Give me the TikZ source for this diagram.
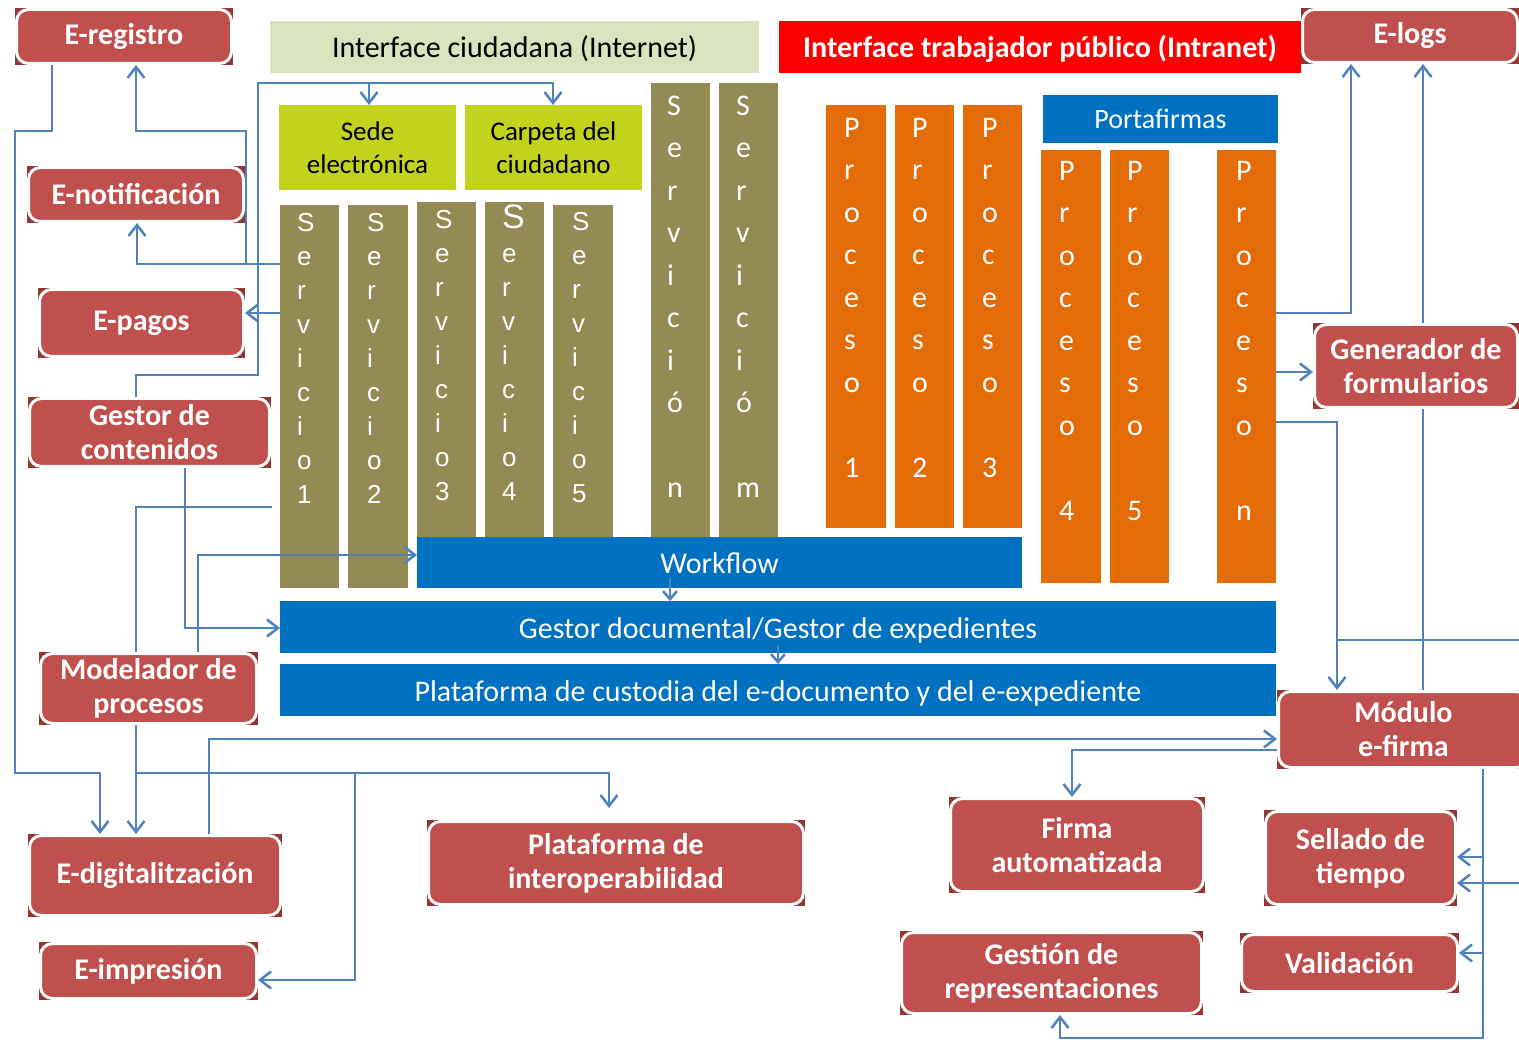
\documentclass[tikz,border=0pt]{standalone}
\usepackage{fontspec}
\setmainfont{Carlito}
\newfontfamily\arialf{Liberation Sans}
\usetikzlibrary{arrows.meta}
\definecolor{boxred}{HTML}{C0504D}
\definecolor{cornerred}{HTML}{943634}
\definecolor{lineblue}{HTML}{4F81BD}
\definecolor{olivebar}{HTML}{948A54}
\definecolor{orangebar}{HTML}{E36C09}
\definecolor{bluebar}{HTML}{0070C0}
\definecolor{lightgreen}{HTML}{D7E4BD}
\definecolor{limebar}{HTML}{C3D21C}
\tikzset{
 rbox/.style={fill=boxred, draw=white, line width=3pt, rounded corners=12pt, text=white, align=center, inner sep=0pt, font=\fontsize{30}{34}\selectfont\bfseries},
 barbox/.style={inner sep=0pt, outer sep=0pt, align=center},
 oneline/.style={text height=28pt, text depth=6pt},
 conn/.style={draw=lineblue, line width=2.5pt, line join=miter},
 arr/.style={-{Straight Barb[length=11pt,width=17pt]}},
 sarr/.style={-{Straight Barb[length=8pt,width=14pt]}},
 svl/.style={anchor=north west, inner sep=0pt, align=left, text=white, font=\arialf\fontsize{26}{34}\selectfont},
 pvl/.style={anchor=north west, inner sep=0pt, align=left, text=white, font=\fontsize{30}{42.5}\selectfont},
 bartext/.style={text=white, font=\fontsize{30}{34}\selectfont, oneline},
}
\newcommand\rbx[6]{%
 \fill[cornerred] (#2,-#3) rectangle (#4,-#5);
 \node[rbox, minimum width={#4-#2-3}, minimum height={#5-#3-3}] (#1) at ({(#2+#4)/2},{-(#3+#5)/2}) {#6};
}
\newcommand\mkbar[7]{\node[barbox, #6, minimum width={#4-#2}, minimum height={#5-#3}] (#1) at ({(#2+#4)/2},{-(#3+#5)/2}) {#7};}
\newcommand\fst{\rule{0pt}{26pt}}
\begin{document}
\begin{tikzpicture}[x=1pt,y=1pt]
\useasboundingbox[fill=white] (0,0) rectangle (1519,-1040);
% headers
\mkbar{hdra}{270}{21}{759}{73}{fill=lightgreen, text=black, font=\fontsize{30}{34}\selectfont, oneline}{Interface ciudadana (Internet)}
\mkbar{hdrb}{779}{21}{1301}{73}{fill=red, text=white, font=\fontsize{30}{34}\selectfont\bfseries, oneline}{Interface trabajador público (Intranet)}
\mkbar{sede}{279}{105}{456}{190}{fill=limebar, text=black, font=\fontsize{27}{33}\selectfont}{Sede\\electrónica}
\mkbar{carpeta}{465}{105}{642}{190}{fill=limebar, text=black, font=\fontsize{27}{33}\selectfont}{Carpeta del\\ciudadano}
% servicios
\mkbar{s1}{280}{205}{339}{588}{fill=olivebar}{}
\mkbar{s2}{348}{205}{408}{588}{fill=olivebar}{}
\mkbar{s3}{417}{202}{476}{537}{fill=olivebar}{}
\mkbar{s4}{485}{202}{544}{537}{fill=olivebar}{}
\mkbar{s5}{553}{205}{613}{537}{fill=olivebar}{}
\mkbar{sn}{651}{83}{710}{537}{fill=olivebar}{}
\mkbar{sm}{719}{83}{778}{537}{fill=olivebar}{}
\node[svl] (ts1) at (297,-205) {\fst S\\e\\r\\v\\i\\c\\i\\o\\1};
\node[svl] (ts2) at (367,-205) {\fst S\\e\\r\\v\\i\\c\\i\\o\\2};
\node[svl] (ts3) at (435,-202) {\fst S\\e\\r\\v\\i\\c\\i\\o\\3};
\node[svl] (ts4) at (502,-202) {\fst{\fontsize{34}{34}\selectfont S}\\e\\r\\v\\i\\c\\i\\o\\4};
\node[svl] (ts5) at (572,-204) {\fst S\\e\\r\\v\\i\\c\\i\\o\\5};
\node[pvl] (tsn) at (667,-89) {\fst S\\e\\r\\v\\i\\c\\i\\ó\\\mbox{}\\n};
\node[pvl] (tsm) at (736,-89) {\fst S\\e\\r\\v\\i\\c\\i\\ó\\\mbox{}\\m};
% procesos
\mkbar{p1}{826}{105}{886}{528}{fill=orangebar}{}
\mkbar{p2}{895}{105}{954}{528}{fill=orangebar}{}
\mkbar{p3}{963}{105}{1022}{528}{fill=orangebar}{}
\mkbar{porta}{1043}{95}{1278}{143}{fill=bluebar, text=white, font=\fontsize{28}{32}\selectfont}{Portafirmas}
\mkbar{p4}{1041}{150}{1101}{583}{fill=orangebar}{}
\mkbar{p5}{1110}{150}{1169}{583}{fill=orangebar}{}
\mkbar{pn}{1217}{150}{1276}{583}{fill=orangebar}{}
\node[pvl] (tp1) at (844,-111) {\fst P\\r\\o\\c\\e\\s\\o\\\mbox{}\\1};
\node[pvl] (tp2) at (912,-111) {\fst P\\r\\o\\c\\e\\s\\o\\\mbox{}\\2};
\node[pvl] (tp3) at (982,-111) {\fst P\\r\\o\\c\\e\\s\\o\\\mbox{}\\3};
\node[pvl] (tp4) at (1059,-154) {\fst P\\r\\o\\c\\e\\s\\o\\\mbox{}\\4};
\node[pvl] (tp5) at (1127,-154) {\fst P\\r\\o\\c\\e\\s\\o\\\mbox{}\\5};
\node[pvl] (tpn) at (1236,-154) {\fst P\\r\\o\\c\\e\\s\\o\\\mbox{}\\n};
% blue layers
\mkbar{wf}{417}{537}{1022}{588}{fill=bluebar, bartext}{Workflow}
\mkbar{gdoc}{280}{601}{1276}{653}{fill=bluebar, bartext}{Gestor documental/Gestor de expedientes}
\mkbar{pcust}{280}{664}{1276}{716}{fill=bluebar, bartext}{Plataforma de custodia del e-documento y del e-expediente}
% red boxes
\rbx{ereg}{15}{8}{233}{65}{E-registro}
\rbx{enot}{27}{166}{245}{223}{E-notificación}
\rbx{epag}{38}{288}{245}{358}{E-pagos}
\rbx{gcont}{28}{397}{271}{468}{Gestor de\\contenidos}
\rbx{model}{39}{652}{258}{725}{Modelador de\\procesos}
\rbx{edig}{28}{834}{282}{917}{E-digitalitzación}
\rbx{eimp}{39}{942}{258}{1000}{E-impresión}
\rbx{pinter}{427}{820}{805}{906}{Plataforma de\\interoperabilidad}
\rbx{firma}{949}{797}{1205}{893}{Firma\\automatizada}
\rbx{grep}{900}{931}{1203}{1015}{Gestión de\\representaciones}
\rbx{elogs}{1301}{8}{1519}{64}{E-logs}
\rbx{gener}{1313}{323}{1519}{409}{Generador de\\formularios}
\rbx{modulo}{1277}{690}{1530}{769}{Módulo\\e-firma}
\rbx{sellado}{1264}{810}{1457}{906}{Sellado de\\tiempo}
\rbx{valid}{1240}{933}{1459}{993}{Validación}
% connectors
\draw[conn,arr] (ereg.south -| 52,0) -- (52,-131) -- (15,-131) -- (15,-773) -- (100,-773) -- (edig.north -| 100,0);
\draw[conn,arr] (s1.west |- 0,-264) -- (137,-264) -- (enot.south -| 137,0);
\draw[conn,arr] (246,-264) -- (246,-131) -- (136,-131) -- (ereg.south -| 136,0);
\draw[conn,arr] (s1.west |- 0,-313) -- (epag.east |- 0,-313);
\draw[conn,arr] (gcont.north -| 136,0) -- (136,-375) -- (258,-375) -- (258,-83) -- (553,-83) -- (carpeta.north -| 553,0);
\draw[conn,arr] (369,-83) -- (sede.north -| 369,0);
\draw[conn,arr] (gcont.south -| 185,0) -- (185,-628) -- (gdoc.west |- 0,-628);
\coordinate (c7end) at (272,-507);
\draw[conn] (model.north -| 136,0) -- (136,-507) -- (c7end);
\draw[conn,arr] (model.north -| 198,0) -- (198,-555) -- (wf.west |- 0,-555);
\draw[conn,arr] (model.south -| 136,0) -- (edig.north -| 136,0);
\draw[conn,arr,shorten >=12pt] (136,-773) -- (609,-773) -- (pinter.north -| 609,0);
\draw[conn,arr] (355,-773) -- (355,-980) -- (eimp.east |- 0,-980);
\draw[conn,arr] (edig.north -| 209,0) -- (209,-739) -- (modulo.west |- 0,-739);
\draw[conn,arr] (modulo.west |- 0,-750) -- (1072,-750) -- (firma.north -| 1072,0);
\draw[conn,sarr] (670,-578) -- (gdoc.north -| 670,0);
\draw[conn,sarr] (778,-645) -- (pcust.north -| 778,0);
\draw[conn,arr] (pn.east |- 0,-313) -- (1351,-313) -- (elogs.south -| 1351,0);
\draw[conn,arr] (gener.north -| 1423,0) -- (elogs.south -| 1423,0);
\draw[conn] (modulo.north -| 1423,0) -- (gener.south -| 1423,0);
\draw[conn,arr] (pn.east |- 0,-372) -- (gener.west |- 0,-372);
\draw[conn,arr] (pn.east |- 0,-422) -- (1337,-422) -- (modulo.north -| 1337,0);
\coordinate (c21end) at (1519,-640);
\draw[conn] (1337,-640) -- (c21end);
\draw[conn,arr] (modulo.south -| 1483,0) -- (1483,-1038) -- (1060,-1038) -- (grep.south -| 1060,0);
\draw[conn,arr] (1483,-857) -- (sellado.east |- 0,-857);
\coordinate (c24start) at (1519,-883);
\draw[conn,arr] (c24start) -- (sellado.east |- 0,-883);
\draw[conn,arr] (1483,-953) -- (valid.east |- 0,-953);
\end{tikzpicture}
\end{document}
